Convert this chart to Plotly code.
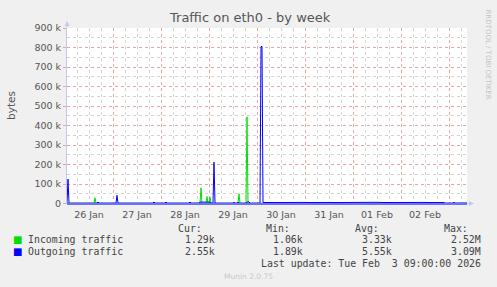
import plotly.graph_objects as go

# ---------------- data ----------------
in_times = [
    "2026-01-26 01:00", "2026-01-26 14:30", "2026-01-26 15:00", "2026-01-26 15:30",
    "2026-01-28 19:30", "2026-01-28 20:00", "2026-01-28 20:30",
    "2026-01-28 22:30", "2026-01-28 23:00", "2026-01-28 23:30",
    "2026-01-29 00:00", "2026-01-29 00:30", "2026-01-29 01:00",
    "2026-01-29 14:30", "2026-01-29 15:00", "2026-01-29 15:30",
    "2026-01-29 18:30", "2026-01-29 19:00", "2026-01-29 19:30",
    "2026-02-03 09:00",
]
in_values = [
    1200, 1200, 30000, 1200,
    1300, 80000, 1300,
    1300, 36000, 1300,
    1300, 33000, 1300,
    1300, 50000, 1300,
    1300, 445000, 1300,
    1290,
]

out_times = [
    "2026-01-26 01:00", "2026-01-26 01:30", "2026-01-26 02:00",
    "2026-01-26 16:00", "2026-01-26 16:30", "2026-01-26 17:00",
    "2026-01-27 01:30", "2026-01-27 02:00", "2026-01-27 02:30",
    "2026-01-27 20:00", "2026-01-27 20:30", "2026-01-27 21:00",
    "2026-01-28 02:00", "2026-01-28 02:30", "2026-01-28 03:00",
    "2026-01-28 14:00", "2026-01-28 14:30", "2026-01-28 15:00",
    "2026-01-28 19:00", "2026-01-28 19:30", "2026-01-29 00:30", "2026-01-29 01:00",
    "2026-01-29 02:00", "2026-01-29 02:30", "2026-01-29 03:00",
    "2026-01-29 12:00", "2026-01-29 12:30", "2026-01-29 13:00",
    "2026-01-29 14:00", "2026-01-29 14:30", "2026-01-29 15:00",
    "2026-01-29 18:30", "2026-01-29 19:00", "2026-01-29 20:00", "2026-01-29 20:30",
    "2026-01-30 01:30", "2026-01-30 02:00", "2026-01-30 02:30", "2026-01-30 03:00",
    "2026-01-30 06:00", "2026-01-30 09:00", "2026-01-30 12:00", "2026-01-30 15:00",
    "2026-01-30 18:00", "2026-01-30 21:00", "2026-01-31 00:00", "2026-01-31 03:00",
    "2026-01-31 06:00", "2026-01-31 09:00", "2026-01-31 12:00", "2026-01-31 15:00",
    "2026-01-31 18:00", "2026-01-31 21:00", "2026-02-01 00:00", "2026-02-01 03:00",
    "2026-02-01 06:00", "2026-02-01 09:00", "2026-02-01 12:00", "2026-02-01 15:00",
    "2026-02-01 18:00", "2026-02-01 21:00", "2026-02-02 00:00", "2026-02-02 03:00",
    "2026-02-02 06:00", "2026-02-02 09:00", "2026-02-02 12:00", "2026-02-02 15:00",
    "2026-02-02 18:00", "2026-02-02 21:30", "2026-02-02 22:00",
    "2026-02-03 02:00", "2026-02-03 02:30", "2026-02-03 03:00",
    "2026-02-03 09:00",
]
out_values = [
    2000, 125000, 2000,
    2000, 8000, 2000,
    2000, 42000, 2000,
    2000, 8000, 2000,
    2000, 8000, 2000,
    2000, 8000, 2000,
    2000, 7000, 7000, 2000,
    2000, 212000, 2000,
    2000, 7000, 2000,
    2000, 7000, 2000,
    2000, 8000, 8000, 2000,
    2000, 805000, 805000, 5000,
    5500, 5000, 6000, 5000,
    5500, 5000, 5500, 5000,
    6000, 5000, 5500, 5000,
    5500, 5000, 6000, 5000,
    5500, 5000, 6000, 5000,
    5500, 5000, 5500, 5000,
    6000, 5000, 5500, 5000,
    5500, 5000, 2000,
    2000, 7000, 2000,
    2550,
]

y_tick_values = [0, 100000, 200000, 300000, 400000, 500000, 600000, 700000, 800000, 900000]
y_tick_labels = ["0", "100 k", "200 k", "300 k", "400 k", "500 k", "600 k", "700 k", "800 k", "900 k"]

series_names = ["Incoming traffic", "Outgoing traffic"]
series_colors = ["#00e000", "#0000ff"]
cur_values = ["1.29k", "2.55k"]
min_values = ["1.06k", "1.89k"]
avg_values = ["3.33k", "5.55k"]
max_values = ["2.52M", "3.09M"]

title_text = "Traffic on eth0 - by week"
last_update = "Last update: Tue Feb \u00a03 09:00:00 2026"
x_range = ["2026-01-26 01:00", "2026-02-03 09:00"]

# ---------------- layout geometry (pixels) ----------------
W, H = 497, 287
L, R, T, B = 67, 467, 28, 204        # plot box; value 0 sits on pixel row 203
Y_MAX = 900000
Y_MIN = -Y_MAX * 0.5 / (B - 0.5 - T)  # puts 0 at the centre of row 203


def px(xp):
    return (xp - L) / (R - L)


def py(yp):
    return (B - yp) / (B - T)


fig = go.Figure()
fig.add_trace(go.Scatter(x=in_times, y=in_values, mode="lines",
                         line=dict(color=series_colors[0], width=1), name=series_names[0]))
fig.add_trace(go.Scatter(x=out_times, y=out_values, mode="lines",
                         line=dict(color=series_colors[1], width=1), name=series_names[1]))

tick_font = dict(family="DejaVu Sans", size=9.5, color="#555555")
major_grid = "#e6a4a4"
minor_grid = "#d4d4d4"
axis_col = "#c4c8f0"
base_col = "#7070f4"

fig.update_layout(
    width=W, height=H,
    margin=dict(l=L, r=W - R, t=T, b=H - B, pad=0),
    paper_bgcolor="#f0f0f0", plot_bgcolor="#ffffff",
    showlegend=False,
    font=dict(family="DejaVu Sans", color="#444444"),
    xaxis=dict(
        type="date", range=x_range,
        tick0="2026-01-26", dtick=86400000, tickformat="%d %b", ticklabelmode="period",
        showgrid=True, gridcolor=major_grid, griddash="dot", gridwidth=1,
        minor=dict(tick0="2026-01-26", dtick=21600000, showgrid=True,
                   gridcolor=minor_grid, griddash="dot", gridwidth=1),
        showline=False,
        ticks="outside", ticklen=2, tickcolor="rgba(0,0,0,0)",
        tickfont=tick_font, zeroline=False,
    ),
    yaxis=dict(
        range=[Y_MIN, Y_MAX],
        tickmode="array", tickvals=y_tick_values, ticktext=y_tick_labels,
        showgrid=True, gridcolor=major_grid, griddash="dot", gridwidth=1,
        minor=dict(tickmode="linear", tick0=0, dtick=50000, showgrid=True,
                   gridcolor=minor_grid, griddash="dot", gridwidth=1),
        showline=True, linecolor=axis_col, linewidth=1,
        ticks="outside", ticklen=3, tickcolor=major_grid,
        tickfont=tick_font,
        zeroline=True, zerolinecolor=base_col, zerolinewidth=1.5,
    ),
)
try:
    fig.update_yaxes(zerolinelayer="above traces")
except Exception:
    pass

ann = []
ann.append(dict(text=title_text, x=px(250), y=py(18), xref="paper", yref="paper",
                showarrow=False, font=dict(family="DejaVu Sans", size=13, color="#555555"),
                xanchor="center", yanchor="middle"))
ann.append(dict(text="bytes", x=px(11), y=py(105), xref="paper", yref="paper",
                showarrow=False, textangle=-90,
                font=dict(family="DejaVu Sans", size=10.5, color="#555555"),
                xanchor="center", yanchor="middle"))
ann.append(dict(text="RRDTOOL / TOBI OETIKER", x=px(487.5), y=py(54), xref="paper", yref="paper",
                showarrow=False, textangle=90,
                font=dict(family="DejaVu Sans", size=7, color="#c4c4c4"),
                xanchor="center", yanchor="middle"))
# axis arrows
ann.append(dict(text="", x=px(67), y=py(21), xref="paper", yref="paper", ax=0, ay=8,
                showarrow=True, arrowhead=2, arrowsize=1, arrowwidth=1, arrowcolor=axis_col))
ann.append(dict(text="", x=px(474), y=py(203.5), xref="paper", yref="paper", ax=-8, ay=0,
                showarrow=True, arrowhead=2, arrowsize=1, arrowwidth=1, arrowcolor=axis_col))

mono = dict(family="DejaVu Sans Mono", size=9.9, color="#444444")
for label, xr in [("Cur:", 204), ("Min:", 292), ("Avg:", 381), ("Max:", 470)]:
    ann.append(dict(text=label, x=px(xr), y=py(228.5), xref="paper", yref="paper",
                    showarrow=False, font=mono, xanchor="right", yanchor="middle"))
rows_y = [239.5, 251.5]
for i in range(2):
    yy = py(rows_y[i])
    ann.append(dict(text="\u25a0", x=px(17), y=yy, xref="paper", yref="paper", showarrow=False,
                    font=dict(family="DejaVu Sans", size=10, color=series_colors[i]),
                    xanchor="center", yanchor="middle"))
    ann.append(dict(text=series_names[i], x=px(26), y=yy, xref="paper", yref="paper",
                    showarrow=False, font=mono, xanchor="left", yanchor="middle"))
    for vals, xr in [(cur_values, 217), (min_values, 305), (avg_values, 394), (max_values, 483)]:
        ann.append(dict(text=vals[i], x=px(xr), y=yy, xref="paper", yref="paper",
                        showarrow=False, font=mono, xanchor="right", yanchor="middle"))
ann.append(dict(text=last_update, x=px(483), y=py(263.7), xref="paper", yref="paper",
                showarrow=False, font=mono, xanchor="right", yanchor="middle"))
ann.append(dict(text="Munin 2.0.75", x=px(248), y=py(276), xref="paper", yref="paper",
                showarrow=False, font=dict(family="DejaVu Sans", size=7.5, color="#c8c8c8"),
                xanchor="center", yanchor="middle"))

fig.update_layout(annotations=ann)
fig.write_html("out.html")
